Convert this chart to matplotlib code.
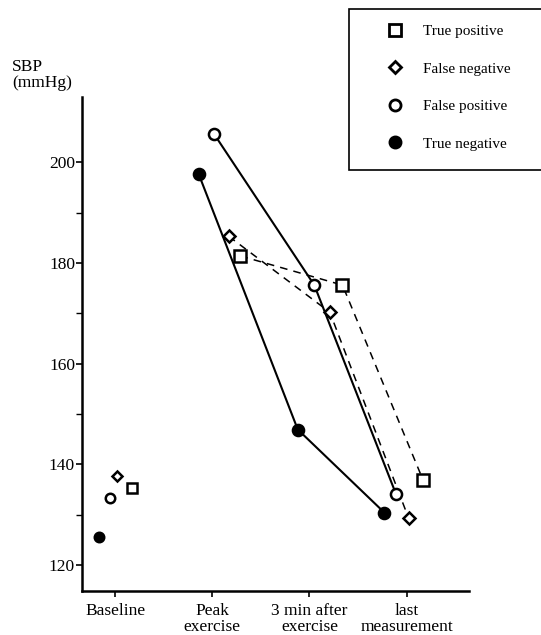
"""SBP at baseline, peak exercise, 3 min after exercise and last measurement."""
import matplotlib
matplotlib.use('Agg')
import matplotlib.pyplot as plt
from matplotlib.lines import Line2D
from matplotlib.patches import Rectangle

plt.rcParams['font.family'] = ['Liberation Serif', 'DejaVu Serif']

# stages on the x axis
stages = ['Baseline', 'Peak\nexercise', '3 min after\nexercise', 'last\nmeasurement']

# SBP values (mmHg) per group, one value per stage
true_positive = [135.2, 181.4, 175.6, 136.8]
false_negative = [137.6, 185.3, 170.2, 129.3]
false_positive = [133.2, 205.6, 175.6, 134.1]
true_negative = [125.6, 197.7, 146.9, 130.4]

# horizontal shift of each group's symbol around the stage tick
shift_tp = [0.17, 0.29, 0.34, 0.17]
shift_fn = [0.02, 0.17, 0.21, 0.02]
shift_fp = [-0.05, 0.02, 0.05, -0.11]
shift_tn = [-0.17, -0.14, -0.12, -0.23]

fig = plt.figure(figsize=(5.41, 6.35), dpi=100)
ax = fig.add_axes([0.1516, 0.0693, 0.715, 0.778])

groups = [
    (true_positive, shift_tp, 's', 'white', '--', 1.1, 8.5, 'True positive'),
    (false_negative, shift_fn, 'D', 'white', '--', 1.1, 6.0, 'False negative'),
    (false_positive, shift_fp, 'o', 'white', '-', 1.5, 8.0, 'False positive'),
    (true_negative, shift_tn, 'o', 'black', '-', 1.5, 8.0, 'True negative'),
]

handles = []
for vals, shift, mk, fc, ls, lw, ms, label in groups:
    xs = [i + s for i, s in enumerate(shift)]
    # stages after baseline are joined by a line
    ax.plot(xs[1:], vals[1:], linestyle=ls, color='black', linewidth=lw,
            dashes=(5, 4) if ls == '--' else (None, None), zorder=2)
    ax.plot(xs[1:], vals[1:], linestyle='none', marker=mk, markersize=ms,
            markerfacecolor=fc, markeredgecolor='black', markeredgewidth=1.8,
            zorder=3)
    # baseline symbol drawn a bit smaller
    ax.plot(xs[0], vals[0], linestyle='none', marker=mk, markersize=ms * 0.85,
            markerfacecolor=fc, markeredgecolor='black', markeredgewidth=1.8,
            zorder=3)
    handles.append(Line2D([], [], linestyle='none', marker=mk, markersize=ms,
                          markerfacecolor=fc, markeredgecolor='black',
                          markeredgewidth=2.0, label=label))

ax.set_xlim(-0.34, 3.64)
ax.set_ylim(114.8, 213)
ax.set_xticks(range(len(stages)))
ax.set_xticklabels(stages, fontsize=12.5, linespacing=0.92)
ax.set_yticks([120, 140, 160, 180, 200])
ax.set_yticks([130, 150, 170, 190], minor=True)
ax.tick_params(axis='y', labelsize=12.5, direction='out', length=4, width=1.2, pad=1)
ax.tick_params(axis='y', which='minor', direction='out', length=4, width=1.0)
ax.tick_params(axis='x', direction='out', length=4, width=1.2, pad=5)

for side in ['top', 'right']:
    ax.spines[side].set_visible(False)
for side in ['left', 'bottom']:
    ax.spines[side].set_linewidth(1.8)

fig.text(0.022, 0.857, 'SBP\n(mmHg)', fontsize=12.5, ha='left', va='bottom',
         linespacing=1.0)

# legend box runs off the right edge of the figure
fig.patches.append(Rectangle((0.645, 0.732), 0.37, 0.254, transform=fig.transFigure,
                             facecolor='white', edgecolor='black', linewidth=1.2,
                             zorder=0))
leg = fig.legend(handles=handles, loc='upper left', bbox_to_anchor=(0.716, 0.961),
                 fontsize=11, labelspacing=1.55, handletextpad=1.33,
                 borderpad=0, borderaxespad=0, frameon=False, handlelength=1.0)

fig.savefig('out.png', dpi=100)
